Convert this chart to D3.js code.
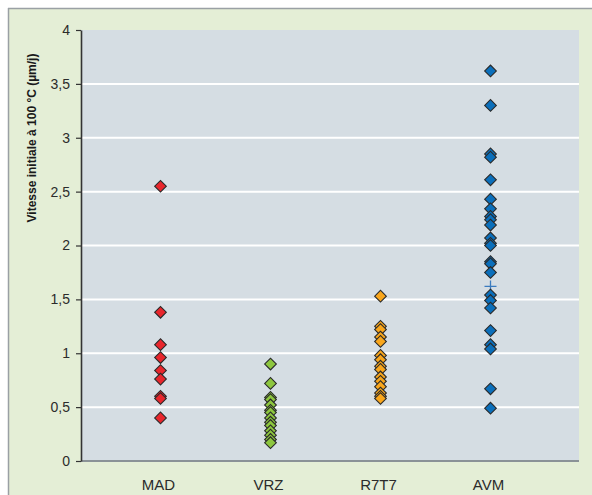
<!DOCTYPE html>
<html><head><meta charset="utf-8">
<script src="https://cdn.jsdelivr.net/npm/d3@7"></script>
<style>body{margin:0;background:#fff}svg{display:block;font-family:"Liberation Sans",Arial,sans-serif}</style>
</head><body><svg id="c" width="592" height="495"></svg>
<script>
const categories = ["MAD", "VRZ", "R7T7", "AVM"];
const colors = ["#e8262c", "#8dc63f", "#f9a61c", "#0b6fbb"];
const madValues = [2.55, 1.38, 1.08, 0.96, 0.84, 0.76, 0.60, 0.58, 0.40];
const vrzValues = [0.90, 0.72, 0.59, 0.57, 0.52, 0.47, 0.45, 0.40, 0.36, 0.33, 0.28, 0.24, 0.20, 0.17];
const r7t7Values = [1.53, 1.25, 1.22, 1.15, 1.11, 0.98, 0.94, 0.88, 0.85, 0.78, 0.74, 0.69, 0.63, 0.60, 0.58];
const avmValues = [3.62, 3.30, 2.85, 2.82, 2.61, 2.43, 2.34, 2.27, 2.24, 2.19, 2.07, 2.02, 2.00, 1.85, 1.83, 1.75, 1.54, 1.49, 1.42, 1.21, 1.08, 1.04, 0.67, 0.49];
const meanMarkers = [{cat: "AVM", value: 1.62}];
const yTicks = [0, 0.5, 1, 1.5, 2, 2.5, 3, 3.5, 4];
const yLabel = "Vitesse initiale à 100 °C (µm/j)";

const series = [madValues, vrzValues, r7t7Values, avmValues];
const svg = d3.select("#c");
const W = 592, H = 495;
const plot = {left: 81, right: 579, top: 30, bottom: 461};

// outer frame
svg.append("rect").attr("x", 8).attr("y", 8).attr("width", W - 8).attr("height", H - 8).attr("fill", "#e4eed6");
svg.append("line").attr("x1", 8).attr("x2", W).attr("y1", 8.5).attr("y2", 8.5).attr("stroke", "#9aa0a4").attr("stroke-width", 1.5);
svg.append("line").attr("x1", 8.5).attr("x2", 8.5).attr("y1", 8).attr("y2", H).attr("stroke", "#9aa0a4").attr("stroke-width", 1.5);

const y = d3.scaleLinear().domain([0, 4]).range([plot.bottom, plot.top]);
const x = d3.scalePoint().domain(categories).range([160.5, 490.5]);

svg.append("rect").attr("x", plot.left).attr("y", plot.top)
  .attr("width", plot.right - plot.left).attr("height", plot.bottom - plot.top).attr("fill", "#d5dde3");

// grid
svg.append("g").selectAll("line").data(yTicks.filter(t => t > 0 && t < 4)).join("line")
  .attr("x1", plot.left).attr("x2", plot.right)
  .attr("y1", d => y(d)).attr("y2", d => y(d))
  .attr("stroke", "#ffffff").attr("stroke-width", 2);

// bottom baseline
svg.append("line").attr("x1", plot.left).attr("x2", plot.right)
  .attr("y1", plot.bottom).attr("y2", plot.bottom).attr("stroke", "#8a9297").attr("stroke-width", 2);

// y axis
const fmt = d => String(d).replace(".", ",");
const yAxis = svg.append("g").attr("transform", `translate(${plot.left},0)`)
  .call(d3.axisLeft(y).tickValues(yTicks).tickFormat(fmt).tickSize(5).tickSizeOuter(0).tickPadding(6));
yAxis.select(".domain").attr("stroke", "#333").attr("stroke-width", 1.6);
yAxis.selectAll(".tick line").attr("stroke", "#333").attr("stroke-width", 1.2);
yAxis.selectAll(".tick text").attr("font-size", 14).attr("fill", "#2b2b2b")
  .attr("font-family", "'Liberation Sans',Arial,sans-serif");

// x labels
svg.append("g").selectAll("text").data(categories).join("text")
  .attr("x", d => x(d) - 2).attr("y", 490)
  .attr("text-anchor", "middle").attr("font-size", 15).attr("fill", "#2b2b2b").text(d => d);

// y label
svg.append("text").attr("transform", `translate(36,${138}) rotate(-90)`)
  .attr("text-anchor", "middle").attr("font-size", 12).attr("font-weight", "bold").attr("fill", "#1a1a1a")
  .text(yLabel);

// mean markers
const mg = svg.append("g");
meanMarkers.forEach(m => {
  const cx = x(m.cat), cy = y(m.value);
  mg.append("path").attr("d", `M${cx - 6},${cy}H${cx + 6}M${cx},${cy - 6}V${cy + 6}`)
    .attr("stroke", "#3b7bbf").attr("stroke-width", 1.3).attr("fill", "none");
});

// diamonds
const diamond = d3.symbol().type(d3.symbolSquare).size(68);
series.forEach((vals, i) => {
  svg.append("g").selectAll("path").data(vals).join("path")
    .attr("d", diamond)
    .attr("transform", d => `translate(${x(categories[i])},${y(d)}) rotate(45)`)
    .attr("fill", colors[i]).attr("stroke", "#2a2a2a").attr("stroke-width", 1.1);
});
</script></body></html>
